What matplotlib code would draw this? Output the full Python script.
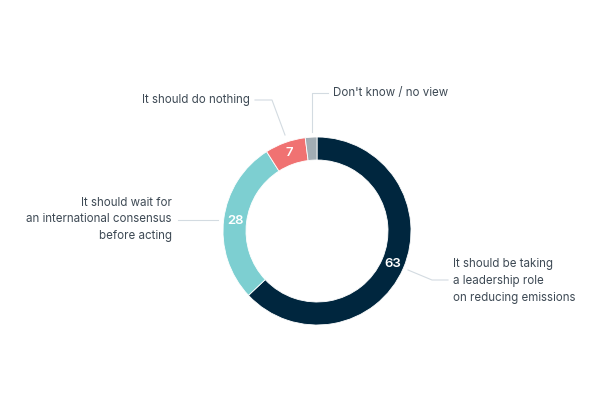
import numpy as np
import matplotlib
matplotlib.use("Agg")
from matplotlib import pyplot as plt

labels = ["It should be taking\na leadership role\non reducing emissions",
          "It should wait for\nan international consensus\nbefore acting",
          "It should do nothing",
          "Don't know / no view"]
values = [63, 28, 7, 2]
shown = ["63", "28", "7", ""]
colors = ["#00263e", "#7dcfd1", "#f07272", "#a2adb4"]

plt.rcParams['font.family'] = ['Inter', 'DejaVu Sans']

fig = plt.figure(figsize=(6, 4), dpi=100)
ax = fig.add_axes([0, 0, 1, 1])
ax.set_xlim(0, 600)
ax.set_ylim(400, 0)
ax.axis('off')

cx, cy, R, w = 317, 231, 94, 23
# pie with flipped y axis: draw with counterclock=True so it looks clockwise
wedges, _ = ax.pie(values, colors=colors, startangle=-90, counterclock=True,
                   center=(cx, cy), radius=R, frame=True,
                   wedgeprops=dict(width=w, edgecolor='white', linewidth=0.6))
ax.set_xlim(0, 600)
ax.set_ylim(400, 0)
ax.set_aspect('equal')
ax.axis('off')

rm = R - w / 2
for wd, s in zip(wedges, shown):
    if not s:
        continue
    a = np.deg2rad((wd.theta1 + wd.theta2) / 2)
    ax.text(cx + rm * np.cos(a), cy + rm * np.sin(a), s, color='white',
            fontsize=9.5, fontweight='semibold', ha='center', va='center')

tcol = '#3e4a55'
lcol = '#d3dbe1'
fs = 8.3
# leader lines
ax.plot([408, 432, 448], [270, 280, 280], color=lcol, lw=0.8)
ax.plot([178, 218], [219.5, 219.5], color=lcol, lw=0.8)
ax.plot([255, 272, 285], [100, 100, 135], color=lcol, lw=0.8)
ax.plot([312, 312, 328], [132, 93, 93], color=lcol, lw=0.8)

ax.text(453, 281, labels[0], color=tcol, fontsize=fs, ha='left', va='center',
        linespacing=1.55)
ax.text(172, 219.5, labels[1], color=tcol, fontsize=fs, ha='right', va='center',
        linespacing=1.55)
ax.text(250, 100, labels[2], color=tcol, fontsize=fs, ha='right', va='center')
ax.text(333, 93, labels[3], color=tcol, fontsize=fs, ha='left', va='center')

plt.savefig('out.png', dpi=100)
